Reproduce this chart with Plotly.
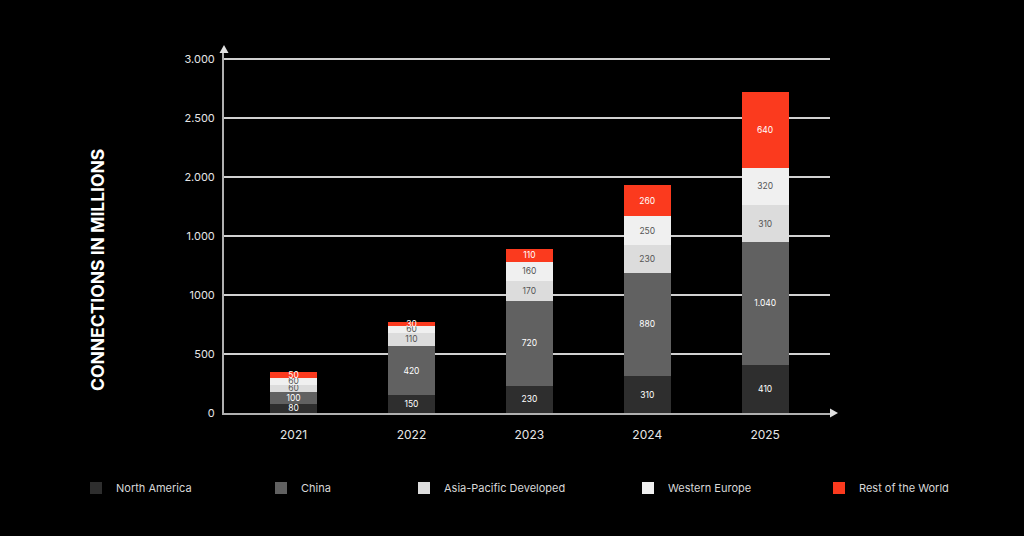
import plotly.graph_objects as go

years = ["2021", "2022", "2023", "2024", "2025"]
north_america = [80, 150, 230, 310, 410]
china = [100, 420, 720, 880, 1040]
asia_pacific = [60, 110, 170, 230, 310]
western_europe = [60, 60, 160, 250, 320]
rest_of_world = [50, 30, 110, 260, 640]

series_names = ["North America", "China", "Asia-Pacific Developed", "Western Europe", "Rest of the World"]
series_values = [north_america, china, asia_pacific, western_europe, rest_of_world]
series_colors = ["#2e2e2e", "#616161", "#dcdcdc", "#f0f0f0", "#fb3a1e"]
text_colors = ["#ffffff", "#ffffff", "#555555", "#555555", "#ffffff"]

y_tickvals = [0, 500, 1000, 1500, 2000, 2500, 3000]
y_ticktext = ["0", "500", "1000", "1.000", "2.000", "2.500", "3.000"]

FONT = "Inter"
W, H = 1024, 536
ML, MR, MT, MB = 224, 194, 50, 123
PW = W - ML - MR
PH = H - MT - MB

legend_px = [76, 261, 404, 628, 819]

fig = go.Figure()
for i, (name, vals, col, tcol) in enumerate(zip(series_names, series_values, series_colors, text_colors)):
    lname = "legend" if i == 0 else f"legend{i+1}"
    fig.add_trace(go.Bar(
        x=years, y=vals, name=name,
        marker=dict(color=col, line=dict(width=0)),
        width=0.4,
        texttemplate="%{y:,}",
        textposition="inside",
        insidetextanchor="middle",
        textfont=dict(family=FONT, size=8.5, color=tcol),
        legend=lname,
        hoverinfo="skip",
    ))

layout_legends = {}
for i, px in enumerate(legend_px):
    lname = "legend" if i == 0 else f"legend{i+1}"
    layout_legends[lname] = dict(
        x=(px - ML) / PW, xanchor="left",
        y=(413 - 488) / PH, yanchor="middle",
        orientation="h",
        font=dict(family=FONT, size=11, color="#d8d8d8"),
        bgcolor="rgba(0,0,0,0)",
        borderwidth=0,
    )

fig.update_layout(
    width=W, height=H,
    paper_bgcolor="#000000", plot_bgcolor="#000000",
    margin=dict(l=ML, r=MR, t=MT, b=MB),
    barmode="stack",
    separators=",.",
    uniformtext=dict(minsize=8.5, mode="show"),
    showlegend=True,
    font=dict(family=FONT, color="#e6e6e6"),
    **layout_legends,
)

fig.update_xaxes(
    type="category",
    range=[-0.59, 4.55],
    showline=True, linecolor="#b0b0b0", linewidth=2,
    showgrid=False, ticks="",
    tickfont=dict(family=FONT, size=12, color="#e6e6e6"),
    ticklabelstandoff=10,
)
fig.update_yaxes(
    range=[0, 3076],
    tickvals=y_tickvals, ticktext=y_ticktext,
    showline=True, linecolor="#b0b0b0", linewidth=2,
    showgrid=True, gridcolor="#d0d0d0", gridwidth=1.5,
    zeroline=False, ticks="",
    tickfont=dict(family=FONT, size=11, color="#e6e6e6"),
    ticklabelstandoff=5,
)

# axis arrowheads
ax_w = 4.5 / PW
ax_h = 8 / PH
fig.add_shape(type="path", xref="paper", yref="paper",
              path=f"M {-ax_w},{1 - 3/PH} L 0,{1 - 3/PH + ax_h} L {ax_w},{1 - 3/PH} Z",
              fillcolor="#e0e0e0", line=dict(width=0))
ry = 4.5 / PH
rx = 8 / PW
fig.add_shape(type="path", xref="paper", yref="paper",
              path=f"M 1,{-ry} L {1 + rx},0 L 1,{ry} Z",
              fillcolor="#e0e0e0", line=dict(width=0))

fig.add_annotation(
    text="<b>CONNECTIONS IN MILLIONS</b>",
    xref="paper", yref="paper",
    x=(97 - ML) / PW, y=(413 - 270) / PH,
    xanchor="center", yanchor="middle",
    textangle=-90, showarrow=False,
    font=dict(family=FONT, size=17.5, color="#ffffff", weight=900),
)

fig.write_html(
    "out.html",
    config={"displayModeBar": False},
    post_script="document.body.style.margin='0';document.body.style.background='#000';",
)
